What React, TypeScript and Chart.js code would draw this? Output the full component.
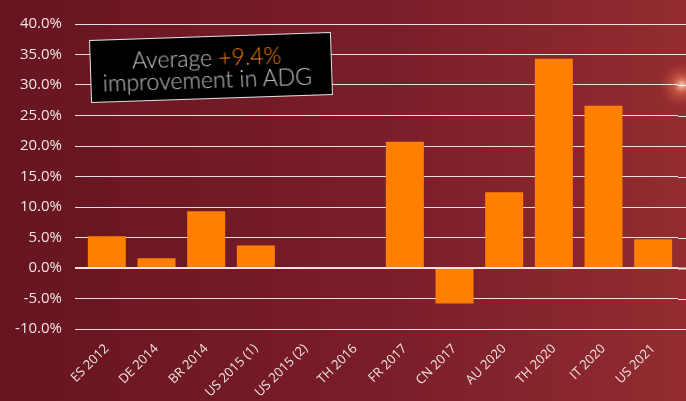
import React, { useEffect, useRef } from "react";
import { Chart, registerables } from "chart.js";

Chart.register(...registerables);

const categories = [
  "ES 2012", "DE 2014", "BR 2014", "US 2015 (1)", "US 2015 (2)", "TH 2016",
  "FR 2017", "CN 2017", "AU 2020", "TH 2020", "IT 2020", "US 2021",
];
const improvement = [5.2, 1.6, 9.3, 3.7, 0, 0, 20.7, -5.8, 12.4, 34.3, 26.6, 4.7];
const yMin = -10;
const yMax = 40;
const yStep = 5;
const averageLabel = "+9.4%";

const bgPlugin = {
  id: "bgPlugin",
  beforeDraw(chart: any) {
    const { ctx, width, height } = chart;
    ctx.save();
    const g = ctx.createLinearGradient(0, 0, width, 0);
    g.addColorStop(0, "#661520");
    g.addColorStop(0.55, "#7a1d2a");
    g.addColorStop(1, "#922c2f");
    ctx.fillStyle = g;
    ctx.fillRect(0, 0, width, height);
    const r = ctx.createRadialGradient(width - 4, 85, 0, width - 4, 85, 24);
    r.addColorStop(0, "rgba(255,220,190,0.95)");
    r.addColorStop(0.35, "rgba(240,120,90,0.5)");
    r.addColorStop(1, "rgba(200,60,50,0)");
    ctx.fillStyle = r;
    ctx.fillRect(width - 40, 55, 40, 60);
    ctx.restore();
  },
  beforeDatasetsDraw(chart: any) {
    const { ctx, chartArea, width } = chart;
    const y = chart.scales.y;
    ctx.save();
    y.ticks.forEach((t: any) => {
      const py = Math.round(y.getPixelForValue(t.value)) + 0.5;
      ctx.strokeStyle = t.value === 0 ? "rgba(255,235,235,0.95)" : "rgba(255,255,255,0.85)";
      ctx.lineWidth = t.value === 0 ? 2 : 1;
      ctx.beginPath();
      ctx.moveTo(chartArea.right, py);
      ctx.lineTo(width, py);
      ctx.stroke();
    });
    ctx.restore();
  },
};

export default function App() {
  const ref = useRef<HTMLCanvasElement>(null);
  useEffect(() => {
    document.body.style.margin = "0";
    const chart = new Chart(ref.current!, {
      type: "bar",
      data: {
        labels: categories,
        datasets: [
          {
            data: improvement,
            backgroundColor: "#ff8000",
            borderWidth: 0,
            categoryPercentage: 0.85,
            barPercentage: 0.9,
          },
        ],
      },
      options: {
        animation: false,
        responsive: false,
        layout: { padding: { top: 24, right: 8, left: 0, bottom: 0 } },
        plugins: { legend: { display: false }, tooltip: { enabled: false } },
        scales: {
          x: {
            grid: { display: false },
            border: { display: false },
            ticks: {
              minRotation: 45,
              maxRotation: 45,
              autoSkip: false,
              color: "#f0e4e4",
              padding: 4,
              font: { family: "Open Sans", size: 13 },
            },
            afterFit(scale: any) {
              scale.height = 72;
            },
          },
          y: {
            min: yMin,
            max: yMax,
            border: { display: false },
            grid: {
              color: (c: any) => (c.tick && c.tick.value === 0 ? "rgba(255,235,235,0.95)" : "rgba(255,255,255,0.85)"),
              lineWidth: (c: any) => (c.tick && c.tick.value === 0 ? 2 : 1),
              tickLength: 7,
            },
            ticks: {
              stepSize: yStep,
              padding: 13,
              color: "#f0e4e4",
              font: { family: "Open Sans", size: 15 },
              callback: (v: any) => Number(v).toFixed(1) + "%",
            },
            afterFit(scale: any) {
              scale.width = 82;
            },
          },
        },
      },
      plugins: [bgPlugin],
    });
    return () => chart.destroy();
  }, []);

  return (
    <div style={{ position: "relative", width: 686, height: 401, overflow: "hidden" }}>
      <canvas ref={ref} width={686} height={401} style={{ display: "block" }} />
      <div
        style={{
          position: "absolute",
          left: 90,
          top: 36,
          width: 242,
          height: 63,
          background: "#000",
          border: "1px solid #e0e0e0",
          transform: "rotate(-1.9deg)",
          color: "#c4c4c4",
          fontFamily: "Lato, sans-serif",
          fontWeight: 300,
          fontSize: 23,
          lineHeight: "22px",
          textAlign: "center",
          display: "flex",
          flexDirection: "column",
          justifyContent: "center",
          boxSizing: "border-box",
          paddingRight: 8,
        }}
      >
        <div>
          Average <span style={{ color: "#ff8000" }}>{averageLabel}</span>
        </div>
        <div>improvement in ADG</div>
      </div>
    </div>
  );
}
